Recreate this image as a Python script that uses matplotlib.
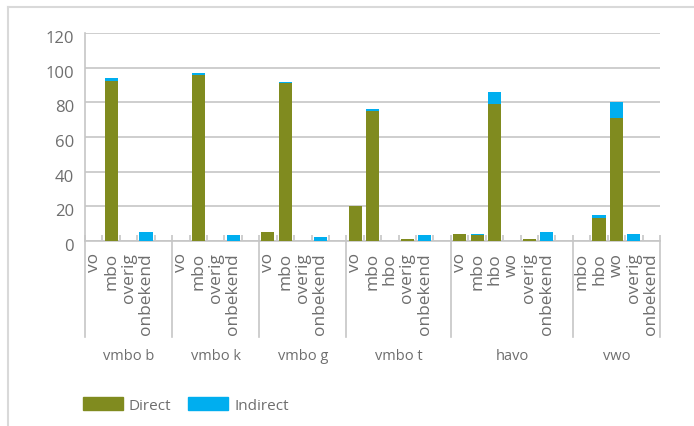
import matplotlib
matplotlib.use('Agg')
import matplotlib.pyplot as plt
import matplotlib.transforms as mtransforms
from matplotlib.patches import Patch
from matplotlib.lines import Line2D
import numpy as np

plt.rcParams['font.family'] = ['Open Sans', 'DejaVu Sans']

# groups and their sub categories
groups = ['vmbo b', 'vmbo k', 'vmbo g', 'vmbo t', 'havo', 'vwo']
subcats = [
    ['vo', 'mbo', 'overig', 'onbekend'],
    ['vo', 'mbo', 'overig', 'onbekend'],
    ['vo', 'mbo', 'overig', 'onbekend'],
    ['vo', 'mbo', 'hbo', 'overig', 'onbekend'],
    ['vo', 'mbo', 'hbo', 'wo', 'overig', 'onbekend'],
    ['mbo', 'hbo', 'wo', 'overig', 'onbekend'],
]
direct = [
    [0, 92.5, 0, 0],
    [0, 96, 0, 0],
    [5, 91.3, 0, 0],
    [20, 75, 0, 1.2, 0],
    [4, 3.5, 79, 0, 1.2, 0],
    [0, 13.3, 71, 0, 0],
]
indirect = [
    [0, 1.5, 0, 5],
    [0, 1, 0, 3.5],
    [0, 0.5, 0, 2.3],
    [0, 1.2, 0, 0, 3.5],
    [0, 0.5, 7, 0, 0, 5.2],
    [0, 1.7, 9.2, 4, 0],
]

OLIVE = '#808B1F'
BLUE = '#00AEEF'
TEXT = '#6E6E6E'
GRID = '#C6C6C6'

W, H = 694, 427
fig = plt.figure(figsize=(W / 100, H / 100), dpi=100)
ax = fig.add_axes([85 / W, 1 - 242 / H, (660 - 85) / W, (242 - 34) / H])

# slot positions: one empty slot after every group except the last
xs, labels, dvals, ivals, seps, centers = [], [], [], [], [], []
pos = 0
for gi, g in enumerate(groups):
    start = pos
    for j, c in enumerate(subcats[gi]):
        xs.append(pos)
        labels.append(c)
        dvals.append(direct[gi][j])
        ivals.append(indirect[gi][j])
        pos += 1
    if gi < len(groups) - 1:
        pos += 1
    seps.append(pos - 0.5)
    centers.append((start - 0.5 + pos - 0.5) / 2)
nslots = pos

xs = np.array(xs)
dvals = np.array(dvals)
ivals = np.array(ivals)
ax.bar(xs, dvals, width=0.75, color=OLIVE, zorder=3)
ax.bar(xs, ivals, width=0.75, bottom=dvals, color=BLUE, zorder=3)

ax.set_xlim(-0.5, nslots - 0.5)
ax.set_ylim(0, 120)
ax.set_yticks(range(0, 121, 20))
ax.yaxis.grid(True, color=GRID, linewidth=1.2)
ax.set_axisbelow(True)
for s in ['top', 'right']:
    ax.spines[s].set_visible(False)
for s in ['left', 'bottom']:
    ax.spines[s].set_color(GRID)
    ax.spines[s].set_linewidth(1.2)
ax.tick_params(axis='y', length=0, pad=8, labelsize=12, labelcolor=TEXT)
ax.set_xticks(np.arange(-0.5, nslots, 1.0))
ax.set_xticklabels([])
ax.tick_params(axis='x', direction='in', length=4, color=GRID, width=1.2)
off = mtransforms.ScaledTranslation(0, -3 / 100, fig.dpi_scale_trans)
for lab in ax.get_yticklabels():
    lab.set_transform(lab.get_transform() + off)

# category labels
tr = mtransforms.blended_transform_factory(ax.transData, fig.transFigure)
for x, lab in zip(xs, labels):
    ax.text(x, 1 - 253 / H, lab, transform=tr, rotation=90, ha='center', va='top',
            fontsize=12.5, color=TEXT)

# group separators and labels
for sx in [-0.5] + seps:
    ax.add_artist(Line2D([sx, sx], [1 - 242 / H, 1 - 338 / H], transform=tr,
                         color=GRID, linewidth=1.2, clip_on=False))
for cx, g in zip(centers, groups):
    ax.text(cx, 1 - 357 / H, g, transform=tr, ha='center', va='center',
            fontsize=10.5, color=TEXT)

# outer frame (top and left)
fig.add_artist(Line2D([8 / W, 1], [1 - 8 / H, 1 - 8 / H], color='#D9D9D9', linewidth=1.5))
fig.add_artist(Line2D([8 / W, 8 / W], [0, 1 - 8 / H], color='#D9D9D9', linewidth=1.5))

handles = [Patch(color=OLIVE, label='Direct'), Patch(color=BLUE, label='Indirect')]
leg = fig.legend(handles=handles, loc='center left', bbox_to_anchor=(83 / W, 1 - 406 / H),
                 ncol=2, frameon=False, fontsize=11, handlelength=2.6, handleheight=0.95,
                 handletextpad=0.4, columnspacing=1.1, borderpad=0, borderaxespad=0)
for t in leg.get_texts():
    t.set_color(TEXT)

fig.savefig('out.png', dpi=100)
